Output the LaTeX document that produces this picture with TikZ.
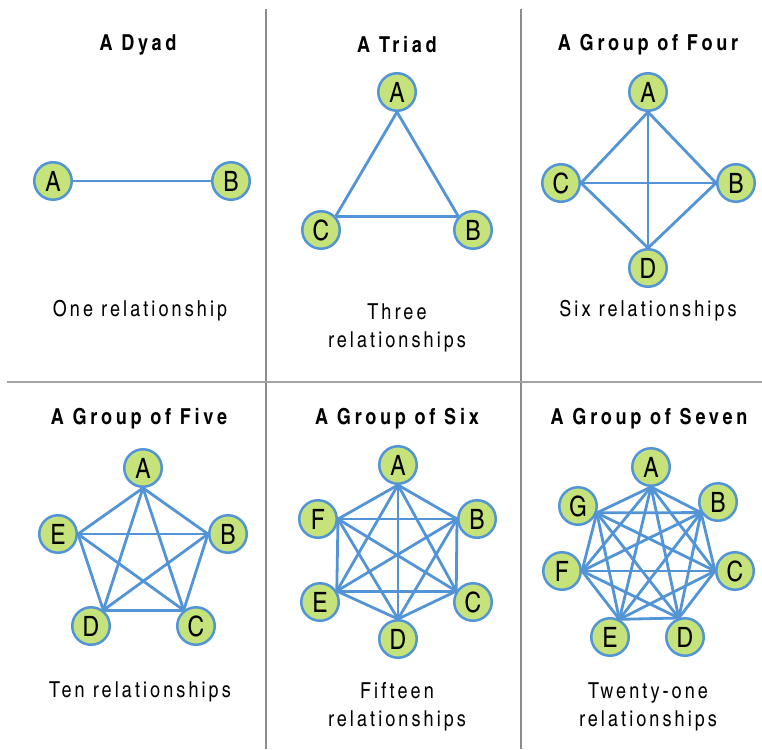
\documentclass[tikz,border=0pt]{standalone}
\usepackage{fontspec}
\setmainfont{TeX Gyre Heros Cn}
\newfontfamily\titlefont{TeX Gyre Heros Cn}[LetterSpace=17]
\newfontfamily\spacedfont{TeX Gyre Heros Cn}[LetterSpace=14]
\usetikzlibrary{backgrounds}
\definecolor{nodegreen}{RGB}{198,226,122}
\definecolor{linkblue}{RGB}{82,148,214}
\definecolor{rulegray}{RGB}{140,140,140}

\begin{document}
\begin{tikzpicture}[x=1pt, y=-1pt,
    member/.style={circle, draw=linkblue, fill=nodegreen, line width=2.5pt,
        minimum size=37.5pt, inner sep=0pt, font=\fontsize{28}{28}\selectfont},
    link/.style={linkblue, line width=2.8pt},
    title/.style={font=\titlefont\fontsize{22}{24}\selectfont\bfseries},
    caption/.style={font=\spacedfont\fontsize{22}{28}\selectfont, align=center}]
    \useasboundingbox (0,0) rectangle (762,749);
    \draw[rulegray, line width=1.2pt] (266,9) -- (266,749);
    \draw[rulegray, line width=1.2pt] (521,9) -- (521,749);
    \draw[rulegray!80, line width=2.5pt] (7,382) -- (762,382);

    \node[title] (t1) at (138,45) {A Dyad};
    \node[member] (A1) at (53,181) {A};
    \node[member] (B1) at (231,181) {B};
    \node[caption] (c1) at (140,311) {One relationship};

    \node[title] (t2) at (397,45) {A Triad};
    \node[member] (A2) at (397,92) {A};
    \node[member] (B2) at (473,230) {B};
    \node[member] (C2) at (321,230) {C};
    \node[caption] (c2) at (397,328) {Three\\relationships};

    \node[title] (t3) at (648,45) {A Group of Four};
    \node[member] (A3) at (648,92) {A};
    \node[member] (B3) at (736,183) {B};
    \node[member] (C3) at (561,183) {C};
    \node[member] (D3) at (648,268) {D};
    \node[caption] (c3) at (648,311) {Six relationships};

    \node[title] (t4) at (139,419) {A Group of Five};
    \node[member] (A4) at (143,468) {A};
    \node[member] (B4) at (228,534) {B};
    \node[member] (C4) at (196,626) {C};
    \node[member] (D4) at (91,626) {D};
    \node[member] (E4) at (58,534) {E};
    \node[caption] (c4) at (140,692) {Ten relationships};

    \node[title] (t5) at (397,419) {A Group of Six};
    \node[member] (A5) at (398,465) {A};
    \node[member] (B5) at (477,519) {B};
    \node[member] (C5) at (473,602) {C};
    \node[member] (D5) at (398,639) {D};
    \node[member] (E5) at (320,602) {E};
    \node[member] (F5) at (318,519) {F};
    \node[caption] (c5) at (397,707) {Fifteen\\relationships};

    \node[title] (t6) at (649,419) {A Group of Seven};
    \node[member] (A6) at (651,467) {A};
    \node[member] (B6) at (718,502) {B};
    \node[member] (C6) at (735,571) {C};
    \node[member] (D6) at (685,637) {D};
    \node[member] (E6) at (610,637) {E};
    \node[member] (F6) at (562,571) {F};
    \node[member] (G6) at (578,506) {G};
    \node[caption] (c6) at (648,707) {Twenty-one\\relationships};

    \begin{scope}[on background layer]
        \draw[link] (A1.east) -- (B1.west);
        \def\ports{A2/270,B2/137,C2/43}
        \foreach \u/\a [count=\i] in \ports
            \foreach \w/\b [count=\j] in \ports
                {\ifnum\j>\i \draw[link] (\u.\a) -- (\w.\b); \fi}
        \def\ports{A3/270,B3/180,C3/0,D3/90}
        \foreach \u/\a [count=\i] in \ports
            \foreach \w/\b [count=\j] in \ports
                {\ifnum\j>\i \draw[link] (\u.\a) -- (\w.\b); \fi}
        \def\ports{A4/270,B4/180,C4/128,D4/52,E4/0}
        \foreach \u/\a [count=\i] in \ports
            \foreach \w/\b [count=\j] in \ports
                {\ifnum\j>\i \draw[link] (\u.\a) -- (\w.\b); \fi}
        \def\ports{A5/270,B5/180,C5/147,D5/90,E5/33,F5/0}
        \foreach \u/\a [count=\i] in \ports
            \foreach \w/\b [count=\j] in \ports
                {\ifnum\j>\i \draw[link] (\u.\a) -- (\w.\b); \fi}
        \def\ports{A6/270,B6/212,C6/180,D6/108,E6/62,F6/0,G6/340}
        \foreach \u/\a [count=\i] in \ports
            \foreach \w/\b [count=\j] in \ports
                {\ifnum\j>\i \draw[link] (\u.\a) -- (\w.\b); \fi}
    \end{scope}
\end{tikzpicture}
\end{document}
